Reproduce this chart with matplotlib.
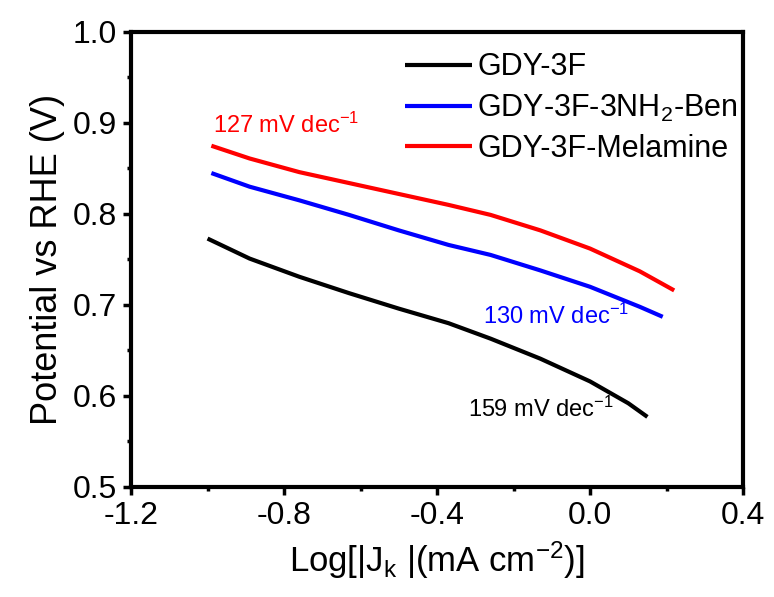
import matplotlib
matplotlib.use('Agg')
import matplotlib.pyplot as plt
from matplotlib.ticker import MultipleLocator, FuncFormatter

plt.rcParams['font.family'] = ['Liberation Sans', 'DejaVu Sans']
plt.rcParams['mathtext.fontset'] = 'custom'
plt.rcParams['mathtext.rm'] = 'Liberation Sans'
plt.rcParams['mathtext.it'] = 'Liberation Sans:italic'
plt.rcParams['mathtext.bf'] = 'Liberation Sans:bold'

# Tafel plots: log|Jk| vs potential
x_3f = [-1.0, -0.89, -0.76, -0.63, -0.50, -0.37, -0.26, -0.13, 0.0, 0.10, 0.15]
y_3f = [0.773, 0.751, 0.731, 0.713, 0.696, 0.680, 0.663, 0.641, 0.616, 0.592, 0.577]

x_ben = [-0.99, -0.89, -0.76, -0.63, -0.50, -0.37, -0.26, -0.13, 0.0, 0.13, 0.19]
y_ben = [0.845, 0.830, 0.815, 0.799, 0.782, 0.766, 0.755, 0.738, 0.720, 0.698, 0.687]

x_mel = [-0.99, -0.89, -0.76, -0.63, -0.50, -0.37, -0.26, -0.13, 0.0, 0.13, 0.22]
y_mel = [0.875, 0.861, 0.846, 0.834, 0.822, 0.810, 0.799, 0.782, 0.762, 0.737, 0.716]

labels = ['GDY-3F', 'GDY-3F-3NH$_2$-Ben', 'GDY-3F-Melamine']
colors = ['black', '#0000ff', '#ff0000']
slopes = ['159 mV dec$^{-1}$', '130 mV dec$^{-1}$', '127 mV dec$^{-1}$']
slope_pos = [(-0.32, 0.585), (-0.28, 0.688), (-0.985, 0.898)]

fig = plt.figure(figsize=(7.74, 5.97), dpi=100)
ax = fig.add_axes([0.1693, 0.1843, 0.7907, 0.7621])

for xs, ys, lab, c in zip([x_3f, x_ben, x_mel], [y_3f, y_ben, y_mel], labels, colors):
    ax.plot(xs, ys, color=c, lw=3, label=lab, solid_capstyle='butt')

for txt, (tx, ty), c in zip(slopes, slope_pos, colors):
    ax.text(tx, ty, txt, color=c, fontsize=17, ha='left', va='center')

ax.set_xlim(-1.2, 0.4)
ax.set_ylim(0.5, 1.0)
ax.xaxis.set_major_locator(MultipleLocator(0.4))
ax.xaxis.set_minor_locator(MultipleLocator(0.2))
ax.yaxis.set_major_locator(MultipleLocator(0.1))
ax.yaxis.set_minor_locator(MultipleLocator(0.05))
ax.xaxis.set_major_formatter(FuncFormatter(lambda v, p: f'{v:.1f}'.replace('-0.0', '0.0')))
ax.yaxis.set_major_formatter(FuncFormatter(lambda v, p: f'{v:.1f}'))

for s in ax.spines.values():
    s.set_linewidth(3)
ax.tick_params(which='major', direction='out', length=6, width=2.5, labelsize=23, pad=4)
ax.tick_params(which='minor', direction='out', length=3, width=2.5)
ax.tick_params(top=False, right=False)

ax.set_xlabel('Log[|J$_\\mathregular{k}$ |(mA cm$^{-2}$)]', fontsize=25, labelpad=6)
ax.set_ylabel('Potential vs RHE (V)', fontsize=26, labelpad=6)

ax.legend(loc='upper left', bbox_to_anchor=(0.448, 0.955), frameon=False, fontsize=22,
          handlelength=2.2, handletextpad=0.15, labelspacing=0.33, borderpad=0, borderaxespad=0)

fig.savefig('out.png', dpi=100)
